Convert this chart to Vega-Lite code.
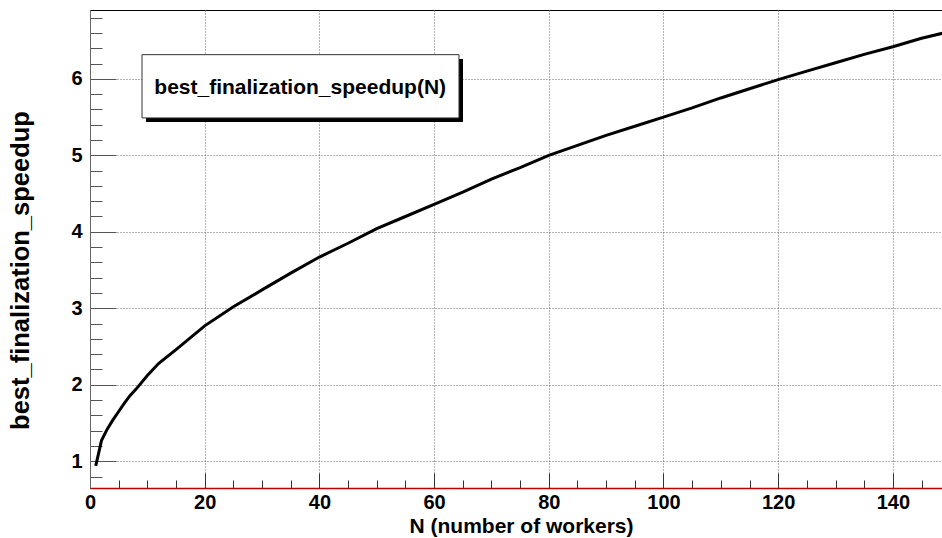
{
  "$schema": "https://vega.github.io/schema/vega-lite/v6.json",
  "width": 853,
  "height": 478,
  "autosize": {"type": "none"},
  "padding": {"left": 90, "top": 10, "right": 0, "bottom": 50},
  "background": "white",
  "config": {"view": {"stroke": "black", "strokeWidth": 1}, "font": "Liberation Sans"},
  "layer": [
    {
      "data": {"values": [
        {"N": 1, "speedup": 0.94},
        {"N": 2, "speedup": 1.27},
        {"N": 3, "speedup": 1.42},
        {"N": 4, "speedup": 1.54},
        {"N": 5, "speedup": 1.65},
        {"N": 6, "speedup": 1.76},
        {"N": 7, "speedup": 1.86},
        {"N": 8, "speedup": 1.94},
        {"N": 10, "speedup": 2.12},
        {"N": 12, "speedup": 2.28},
        {"N": 15, "speedup": 2.46},
        {"N": 20, "speedup": 2.77},
        {"N": 25, "speedup": 3.02},
        {"N": 30, "speedup": 3.24},
        {"N": 35, "speedup": 3.46},
        {"N": 40, "speedup": 3.67},
        {"N": 45, "speedup": 3.85},
        {"N": 50, "speedup": 4.04},
        {"N": 55, "speedup": 4.2},
        {"N": 60, "speedup": 4.36},
        {"N": 65, "speedup": 4.52},
        {"N": 70, "speedup": 4.69},
        {"N": 75, "speedup": 4.84},
        {"N": 80, "speedup": 5.0},
        {"N": 85, "speedup": 5.13},
        {"N": 90, "speedup": 5.26},
        {"N": 95, "speedup": 5.38},
        {"N": 100, "speedup": 5.5},
        {"N": 105, "speedup": 5.62},
        {"N": 110, "speedup": 5.75},
        {"N": 115, "speedup": 5.87},
        {"N": 120, "speedup": 5.99},
        {"N": 125, "speedup": 6.1},
        {"N": 130, "speedup": 6.21},
        {"N": 135, "speedup": 6.32},
        {"N": 140, "speedup": 6.42},
        {"N": 145, "speedup": 6.53},
        {"N": 150, "speedup": 6.62}
      ]},
      "mark": {"type": "line", "color": "black", "strokeWidth": 3, "clip": true},
      "encoding": {
        "x": {
          "field": "N", "type": "quantitative",
          "scale": {"domain": [0, 148.74], "nice": false, "zero": false},
          "axis": {
            "title": "N (number of workers)",
            "values": [0,5,10,15,20,25,30,35,40,45,50,55,60,65,70,75,80,85,90,95,100,105,110,115,120,125,130,135,140,145],
            "tickCount": 300,
            "labelExpr": "datum.value % 20 === 0 ? format(datum.value, 'd') : ''",
            "tickSize": {"condition": {"test": "datum.value % 20 === 0", "value": -15}, "value": -8},
            "tickColor": "#333",
            "tickWidth": 1,
            "grid": true,
            "gridColor": "#666",
            "gridDash": [1, 2],
            "gridOpacity": {"condition": {"test": "datum.value % 20 === 0 && datum.value > 0", "value": 1}, "value": 0},
            "domainColor": "#c00000",
            "domainWidth": 1.5,
            "labelFont": "Liberation Sans",
            "labelFontWeight": "bold",
            "labelFontSize": 20,
            "labelColor": "black",
            "labelPadding": 19,
            "labelFlush": false,
            "labelOverlap": false,
            "titleFont": "Liberation Sans",
            "titleFontWeight": "bold",
            "titleFontSize": 21,
            "titleColor": "black",
            "titleAlign": "center",
            "titleX": 431,
            "titleY": 44,
            "titleBaseline": "alphabetic"
          }
        },
        "y": {
          "field": "speedup", "type": "quantitative",
          "scale": {"domain": [0.65, 6.9], "nice": false, "zero": false},
          "axis": {
            "title": "best_finalization_speedup",
            "values": [0.8,1,1.2,1.4,1.6,1.8,2,2.2,2.4,2.6,2.8,3,3.2,3.4,3.6,3.8,4,4.2,4.4,4.6,4.8,5,5.2,5.4,5.6,5.8,6,6.2,6.4,6.6,6.8],
            "tickCount": 300,
            "labelExpr": "abs(datum.value - round(datum.value)) < 0.01 ? format(datum.value, 'd') : ''",
            "tickSize": {"condition": {"test": "abs(datum.value - round(datum.value)) < 0.01", "value": -26}, "value": -12},
            "tickColor": "#555",
            "tickWidth": 1,
            "grid": true,
            "gridColor": "#666",
            "gridDash": [1, 2],
            "gridOpacity": {"condition": {"test": "abs(datum.value - round(datum.value)) < 0.01", "value": 1}, "value": 0},
            "domainColor": "#666",
            "domainWidth": 1,
            "labelFont": "Liberation Sans",
            "labelFontWeight": "bold",
            "labelFontSize": 20,
            "labelColor": "black",
            "labelPadding": 34,
            "labelFlush": false,
            "labelOverlap": false,
            "titleFont": "Liberation Sans",
            "titleFontWeight": "bold",
            "titleFontSize": 25.5,
            "titleColor": "black",
            "titleAngle": -90,
            "titleAlign": "center",
            "titleBaseline": "middle",
            "titleX": -70,
            "titleY": 260
          }
        }
      }
    },
    {
      "data": {"values": [{"box": "shadow"}]},
      "mark": {"type": "rect", "fill": "black"},
      "encoding": {
        "x": {"datum": 9.77, "type": "quantitative"},
        "x2": {"datum": 65.04},
        "y": {"datum": 6.26, "type": "quantitative"},
        "y2": {"datum": 5.434}
      }
    },
    {
      "data": {"values": [{"box": "frame"}]},
      "mark": {"type": "rect", "fill": "white", "stroke": "#333", "strokeWidth": 1},
      "encoding": {
        "x": {"datum": 9.07, "type": "quantitative"},
        "x2": {"datum": 64.34},
        "y": {"datum": 6.316, "type": "quantitative"},
        "y2": {"datum": 5.489}
      }
    },
    {
      "data": {"values": [{"label": "best_finalization_speedup(N)"}]},
      "mark": {"type": "text", "font": "Liberation Sans", "fontWeight": "bold", "fontSize": 21, "color": "black", "align": "center", "baseline": "middle"},
      "encoding": {
        "x": {"datum": 36.65, "type": "quantitative"},
        "y": {"datum": 5.885, "type": "quantitative"},
        "text": {"field": "label"}
      }
    }
  ]
}
